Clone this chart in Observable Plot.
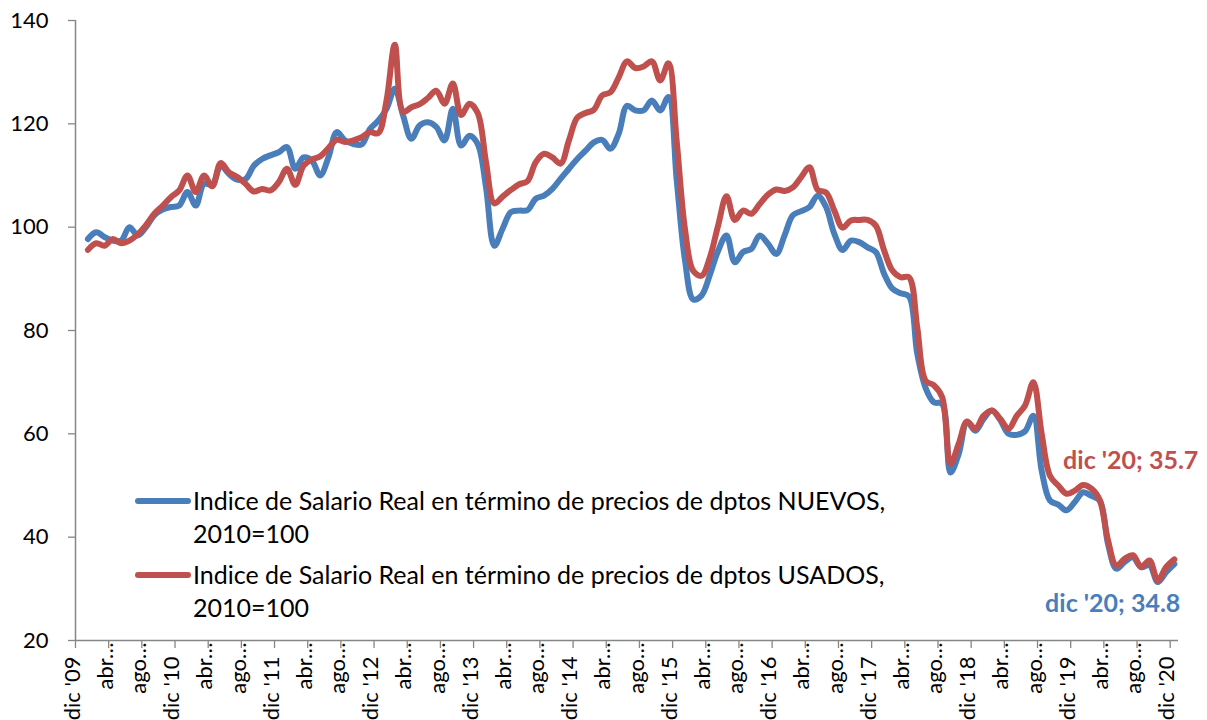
<!DOCTYPE html>
<html>
<head>
<meta charset="utf-8">
<script src="https://cdn.jsdelivr.net/npm/d3@7"></script>
<script src="https://cdn.jsdelivr.net/npm/@observablehq/plot@0.6"></script>
<style>
  body { margin: 0; background: #fff; }
  #wrap { position: relative; width: 1207px; height: 720px; font-family: Lato, sans-serif; }
  .lg-line { position: absolute; height: 6px; border-radius: 3px; }
  .lg-text { position: absolute; font-size: 25px; line-height: 33px; color: #000; white-space: nowrap; }
</style>
</head>
<body>
<div id="wrap"></div>
<script>
// Monthly series, ene '10 .. dic '20 (category 0 = dic '09 has no value)
const blueNuevos = [
  97.7, 99.0, 98.1, 97.4, 97.4, 100.0, 98.4, 100.0, 102.3, 103.4, 103.9, 104.2,
  106.8, 104.2, 108.4, 108.2, 111.9, 110.3, 109.2, 109.3, 111.9, 113.2, 113.9, 114.5,
  115.5, 111.3, 113.5, 112.9, 110.0, 113.5, 118.4, 116.8, 116.1, 116.0, 119.0, 120.6,
  122.9, 126.8, 121.6, 117.1, 119.7, 120.3, 119.4, 116.8, 122.9, 115.8, 117.7, 116.1,
  107.7, 96.4, 99.7, 102.9, 103.2, 103.3, 105.5, 106.1, 107.4, 109.4, 111.3, 113.2,
  114.8, 116.4, 116.9, 115.2, 118.1, 123.5, 122.6, 122.6, 124.5, 122.6, 125.2, 109.0,
  93.5, 86.0, 86.8, 90.8, 95.5, 98.4, 93.2, 95.2, 95.8, 98.4, 96.8, 94.8,
  98.4, 102.3, 103.1, 103.9, 106.1, 103.9, 98.7, 95.6, 97.4, 97.1, 96.1, 95.2,
  91.0, 88.1, 87.2, 86.6, 75.5, 68.9, 66.1, 65.8, 52.5, 56.1, 62.3, 60.6,
  62.9, 64.5, 62.7, 60.0, 59.8, 60.5, 63.5, 52.9, 47.1, 46.3, 45.2, 46.8,
  48.7, 48.0, 47.1, 38.7, 33.9, 35.2, 36.1, 34.2, 34.6, 31.3, 33.2, 34.8
];
const redUsados = [
  95.6, 96.9, 96.4, 97.7, 96.9, 97.4, 98.6, 100.4, 102.6, 104.1, 105.8, 107.1,
  110.0, 106.8, 110.0, 107.9, 112.4, 110.6, 109.7, 108.4, 106.9, 107.4, 107.1, 108.7,
  111.3, 108.2, 111.9, 113.1, 113.7, 115.3, 116.9, 116.5, 116.8, 117.4, 118.4, 118.2,
  124.5, 135.3, 122.3, 123.2, 123.8, 125.0, 126.4, 123.9, 127.8, 121.7, 123.9, 122.1,
  112.6, 104.6, 105.9, 107.2, 108.3, 108.9, 112.6, 114.2, 113.5, 112.3, 116.8, 121.2,
  122.1, 122.7, 125.5, 126.1, 129.0, 132.1, 130.8, 131.1, 132.1, 128.4, 131.7, 116.5,
  99.5, 91.5, 90.6, 94.2, 100.4, 106.0, 101.4, 103.2, 102.6, 104.5, 106.3, 107.3,
  107.0, 107.7, 109.7, 111.6, 107.2, 106.7, 103.2, 99.9, 101.3, 101.4, 101.4, 100.3,
  95.5, 91.6, 90.3, 90.3, 80.6, 70.3, 69.4, 67.1, 54.2, 58.1, 62.4, 61.0,
  63.5, 64.5, 62.9, 61.0, 63.5, 65.5, 70.0, 60.0, 51.9, 50.0, 48.4, 49.0,
  50.1, 49.4, 47.2, 39.4, 34.5, 35.8, 36.5, 34.2, 35.5, 31.6, 34.2, 35.7
];
const seriesNames = [
  ["Indice de Salario Real en término de precios de dptos NUEVOS,", "2010=100"],
  ["Indice de Salario Real en término de precios de dptos USADOS,", "2010=100"]
];
const xTickLabels = [
  "dic '09", "abr…", "ago…", "dic '10", "abr…", "ago…", "dic '11", "abr…", "ago…",
  "dic '12", "abr…", "ago…", "dic '13", "abr…", "ago…", "dic '14", "abr…", "ago…",
  "dic '15", "abr…", "ago…", "dic '16", "abr…", "ago…", "dic '17", "abr…", "ago…",
  "dic '18", "abr…", "ago…", "dic '19", "abr…", "ago…", "dic '20"
];
const lastLabel = "dic '20";
const yTicks = [20, 40, 60, 80, 100, 120, 140];
const nCategories = 133;
const labelStep = 4;

const BLUE = "#4A7EBB";
const RED = "#C0504D";
const AXIS = "#868686";

const blueRows = blueNuevos.map((v, k) => ({i: k + 1, v}));
const redRows = redUsados.map((v, k) => ({i: k + 1, v}));
const labelRows = xTickLabels.map((t, k) => ({t, i: k * labelStep}));
const boundaries = labelRows.map(d => d.i - 0.5);
const lastBlue = blueRows[blueRows.length - 1];
const lastRed = redRows[redRows.length - 1];

const chart = Plot.plot({
  width: 1207,
  height: 720,
  marginLeft: 75,
  marginRight: 29,
  marginTop: 20,
  marginBottom: 80,
  style: {fontFamily: "Lato, sans-serif", color: "#000", background: "#fff"},
  x: {domain: [-0.5, nCategories - 0.5], axis: null},
  y: {domain: [20, 140], axis: null},
  marks: [
    Plot.axisY({ticks: yTicks, tickSize: 7, stroke: AXIS, strokeWidth: 1.3, tickFormat: () => "", label: null}),
    Plot.axisY({ticks: yTicks, tickSize: 0, tickPadding: 27, fontSize: 22, fill: "#000", label: null}),
    Plot.axisX({ticks: boundaries, tickSize: 8, stroke: AXIS, strokeWidth: 1.3, tickFormat: () => "", label: null}),
    Plot.ruleX([-0.5], {stroke: AXIS, strokeWidth: 1.5}),
    Plot.ruleY([20], {stroke: AXIS, strokeWidth: 1.5}),
    Plot.text(labelRows.filter(d => d.t.startsWith("dic")), {
      x: "i", text: "t", frameAnchor: "bottom", rotate: -90, textAnchor: "end",
      dy: 16, fontSize: 22, fill: "#000"
    }),
    Plot.text(labelRows.filter(d => !d.t.startsWith("dic")), {
      x: "i", text: "t", frameAnchor: "bottom", rotate: -90, textAnchor: "end",
      dy: 2, fontSize: 22, fill: "#000"
    }),
    Plot.line(blueRows, {x: "i", y: "v", stroke: BLUE, strokeWidth: 6, curve: "catmull-rom", strokeLinecap: "round", strokeLinejoin: "round"}),
    Plot.line(redRows, {x: "i", y: "v", stroke: RED, strokeWidth: 6, curve: "catmull-rom", strokeLinecap: "round", strokeLinejoin: "round"}),
    Plot.text([lastRed], {
      x: "i", y: "v", text: d => `${lastLabel}; ${d.v.toFixed(1)}`,
      fill: RED, fontWeight: "bold", fontSize: 25, textAnchor: "end", dx: 24, dy: -98
    }),
    Plot.text([lastBlue], {
      x: "i", y: "v", text: d => `${lastLabel}; ${d.v.toFixed(1)}`,
      fill: BLUE, fontWeight: "bold", fontSize: 25, textAnchor: "end", dx: 6, dy: 40
    })
  ]
});

const wrap = document.getElementById("wrap");
wrap.appendChild(chart);

// Legend (inside plot area, bottom-left)
const legendColors = [BLUE, RED];
const legendTops = [484, 558];
seriesNames.forEach((lines, k) => {
  const ln = document.createElement("div");
  ln.className = "lg-line";
  ln.style.left = "135px";
  ln.style.width = "56px";
  ln.style.top = (legendTops[k] + 14) + "px";
  ln.style.background = legendColors[k];
  wrap.appendChild(ln);
  const tx = document.createElement("div");
  tx.className = "lg-text";
  tx.style.left = "193px";
  tx.style.top = legendTops[k] + "px";
  tx.innerHTML = lines.join("<br>");
  wrap.appendChild(tx);
});
</script>
</body>
</html>
